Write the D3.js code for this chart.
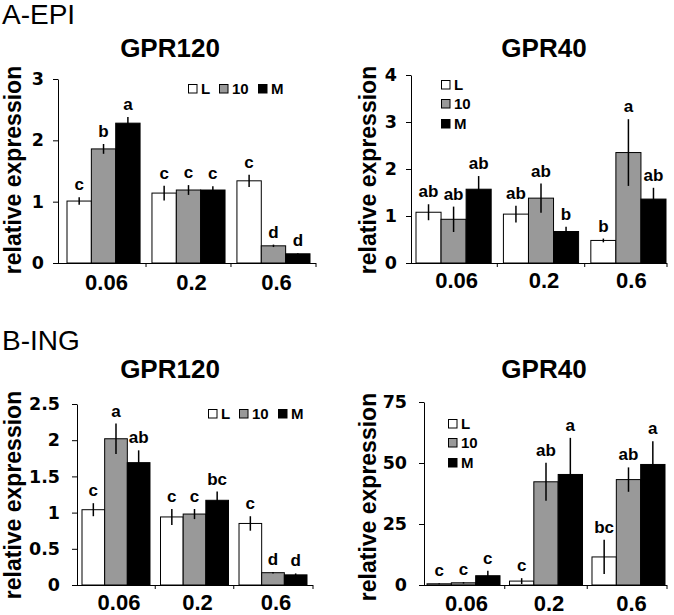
<!DOCTYPE html>
<html>
<head>
<meta charset="utf-8">
<script src="https://cdn.jsdelivr.net/npm/d3@7"></script>
<style>
  html, body { margin: 0; padding: 0; background: #fff; }
  svg { display: block; }
  text { font-family: "Liberation Sans", Arial, sans-serif; fill: #000; }
</style>
</head>
<body>
<svg id="chart" width="674" height="615"></svg>
<script>
// ---------- DATA ----------
const categories = ["0.06", "0.2", "0.6"];
const seriesNames = ["L", "10", "M"];
const seriesColors = ["#ffffff", "#999999", "#000000"];

// A-EPI GPR120 (rows: L, 10, M ; columns: 0.06, 0.2, 0.6)
const aGpr120Mean = [[1.01, 1.14, 1.34], [1.86, 1.19, 0.28], [2.28, 1.19, 0.15]];
const aGpr120Err  = [[0.06, 0.12, 0.10], [0.08, 0.08, 0.02], [0.10, 0.06, 0.01]];
const aGpr120Sig  = [["c", "c", "c"], ["b", "c", "d"], ["a", "c", "d"]];
const aGpr120Ticks = [0, 1, 2, 3];

// A-EPI GPR40
const aGpr40Mean = [[1.08, 1.04, 0.48], [0.93, 1.38, 2.35], [1.57, 0.67, 1.36]];
const aGpr40Err  = [[0.17, 0.18, 0.04], [0.27, 0.31, 0.71], [0.28, 0.10, 0.24]];
const aGpr40Sig  = [["ab", "ab", "b"], ["ab", "ab", "a"], ["ab", "b", "ab"]];
const aGpr40Ticks = [0, 1, 2, 3, 4];

// B-ING GPR120
const bGpr120Mean = [[1.04, 0.94, 0.85], [2.02, 0.98, 0.17], [1.69, 1.17, 0.14]];
const bGpr120Err  = [[0.09, 0.11, 0.10], [0.21, 0.07, 0.01], [0.17, 0.12, 0.02]];
const bGpr120Sig  = [["c", "c", "c"], ["a", "c", "d"], ["ab", "bc", "d"]];
const bGpr120Ticks = [0, 0.5, 1, 1.5, 2, 2.5];

// B-ING GPR40
const bGpr40Mean = [[0.5, 1.6, 11.5], [0.9, 42.3, 43.2], [3.8, 45.3, 49.4]];
const bGpr40Err  = [[0.2, 1.2, 7.0], [0.3, 7.8, 5.0], [2.0, 15.0, 9.5]];
const bGpr40Sig  = [["c", "c", "bc"], ["c", "ab", "ab"], ["c", "a", "a"]];
const bGpr40Ticks = [0, 25, 50, 75];

// ---------- LAYOUT ----------
const svg = d3.select("#chart");

svg.append("text").attr("x", 2).attr("y", 24).style("font-size", "28px").text("A-EPI");
svg.append("text").attr("x", 2).attr("y", 350).style("font-size", "28px").text("B-ING");

const panels = [
  { title: "GPR120", mean: aGpr120Mean, err: aGpr120Err, sig: aGpr120Sig, ticks: aGpr120Ticks,
    axisX: 58, axisEnd: 316, y0: 263, yTop: 79, barStart: 67, barEnd: 310, pad: 0.14,
    titleX: 170, titleY: 57, labelX: 21, labelY: 170, tickPad: 9, xLabY: 290,
    legend: { type: "h", x: [188, 219, 258], y: 84 } },
  { title: "GPR40", mean: aGpr40Mean, err: aGpr40Err, sig: aGpr40Sig, ticks: aGpr40Ticks,
    axisX: 411, axisEnd: 667, y0: 263, yTop: 75, barStart: 416, barEnd: 666, pad: 0.14,
    titleX: 544, titleY: 57, labelX: 376, labelY: 170, tickPad: 9, xLabY: 288,
    legend: { type: "v", x: 441, y: [80, 99, 119] } },
  { title: "GPR120", mean: bGpr120Mean, err: bGpr120Err, sig: bGpr120Sig, ticks: bGpr120Ticks,
    axisX: 77, axisEnd: 313, y0: 585, yTop: 404, barStart: 82, barEnd: 307, pad: 0.134,
    titleX: 170, titleY: 378, labelX: 21, labelY: 495, tickPad: 12, xLabY: 610,
    legend: { type: "h", x: [208, 239, 278], y: 409 } },
  { title: "GPR40", mean: bGpr40Mean, err: bGpr40Err, sig: bGpr40Sig, ticks: bGpr40Ticks,
    axisX: 424, axisEnd: 667, y0: 585, yTop: 402, barStart: 427, barEnd: 665, pad: 0.115,
    titleX: 544, titleY: 378, labelX: 376, labelY: 497, tickPad: 12, xLabY: 611,
    legend: { type: "v", x: 448, y: [419, 438, 458] } }
];

panels.forEach(p => {
  const g = svg.append("g");
  const ticks = p.ticks;
  const y = d3.scaleLinear().domain([0, ticks[ticks.length - 1]]).range([p.y0, p.yTop]);
  const x = d3.scaleBand().domain(categories).range([p.barStart, p.barEnd])
    .paddingInner(p.pad).paddingOuter(0);
  const xs = d3.scaleBand().domain(seriesNames).range([0, x.bandwidth()]);

  // title
  g.append("text").attr("x", p.titleX).attr("y", p.titleY).attr("text-anchor", "middle")
    .style("font-size", "26px").style("font-weight", "bold").text(p.title);

  // y label
  g.append("text").attr("transform", `translate(${p.labelX},${p.labelY}) rotate(-90)`)
    .attr("text-anchor", "middle").style("font-size", "23px").style("font-weight", "bold")
    .text("relative expression");

  // bars
  seriesNames.forEach((s, si) => {
    categories.forEach((c, ci) => {
      const v = p.mean[si][ci];
      const e = p.err[si][ci];
      const bx = x(c) + xs(s);
      const cx = bx + xs.bandwidth() / 2;
      g.append("rect").attr("x", bx).attr("y", y(v)).attr("width", xs.bandwidth())
        .attr("height", y(0) - y(v)).attr("fill", seriesColors[si])
        .attr("stroke", "#000").attr("stroke-width", 1);
      g.append("line").attr("x1", cx).attr("x2", cx).attr("y1", y(Math.max(0, v - e))).attr("y2", y(v + e))
        .attr("stroke", "#000").attr("stroke-width", 1.5);
      g.append("text").attr("x", cx).attr("y", y(v + e) - 7).attr("text-anchor", "middle")
        .style("font-size", "17px").style("font-weight", "bold").text(p.sig[si][ci]);
    });
  });

  // y axis
  const yAxis = d3.axisLeft(y).tickValues(ticks).tickSize(5).tickSizeOuter(0)
    .tickPadding(p.tickPad).tickFormat(d => String(d));
  const ya = g.append("g").attr("transform", `translate(${p.axisX},0)`).call(yAxis);
  ya.selectAll("path, line").attr("stroke", "#000").attr("stroke-width", 1);
  ya.selectAll("text").style("font-family", "'DejaVu Sans', sans-serif")
    .style("font-size", "17.5px").style("font-weight", "bold").attr("fill", "#000");

  // x axis line + boundary ticks
  g.append("line").attr("x1", p.axisX).attr("x2", p.axisEnd).attr("y1", p.y0 + 0.5).attr("y2", p.y0 + 0.5)
    .attr("stroke", "#000").attr("stroke-width", 1);
  const bounds = [];
  for (let i = 1; i < categories.length; i++) {
    bounds.push((x(categories[i - 1]) + x.bandwidth() + x(categories[i])) / 2);
  }
  bounds.push(p.axisEnd);
  bounds.forEach(bx => {
    g.append("line").attr("x1", bx).attr("x2", bx).attr("y1", p.y0).attr("y2", p.y0 + 4)
      .attr("stroke", "#000").attr("stroke-width", 1);
  });

  // x labels
  categories.forEach(c => {
    g.append("text").attr("x", x(c) + x.bandwidth() / 2 + 3).attr("y", p.xLabY)
      .attr("text-anchor", "middle").style("font-size", "22px").style("font-weight", "bold").text(c);
  });

  // legend
  const L = p.legend;
  seriesNames.forEach((s, si) => {
    const lx = L.type === "h" ? L.x[si] : L.x;
    const ly = L.type === "h" ? L.y : L.y[si];
    g.append("rect").attr("x", lx + 0.5).attr("y", ly + 0.5).attr("width", 8.5).attr("height", 8.5)
      .attr("fill", seriesColors[si]).attr("stroke", "#000").attr("stroke-width", 1);
    g.append("text").attr("x", lx + 13).attr("y", ly + 10)
      .style("font-size", "15px").style("font-weight", "bold").text(s);
  });
});
</script>
</body>
</html>
